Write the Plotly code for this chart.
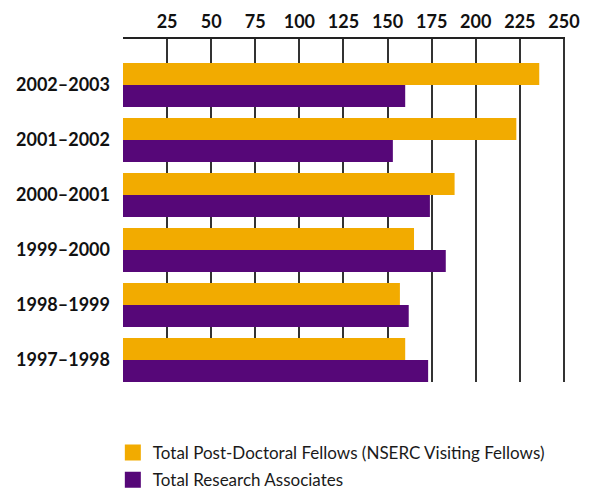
import plotly.graph_objects as go

years = ["1997–1998", "1998–1999", "1999–2000", "2000–2001", "2001–2002", "2002–2003"]
postdoc = [160, 157, 165, 188, 223, 236]
research = [173, 162, 183, 174, 153, 160]
tick_vals = [25, 50, 75, 100, 125, 150, 175, 200, 225, 250]
names = ["Total Post-Doctoral Fellows (NSERC Visiting Fellows)", "Total Research Associates"]
orange = "#F2AB00"
purple = "#560778"

fig = go.Figure()
fig.add_trace(go.Bar(y=years, x=research, orientation="h", marker=dict(color=purple, line=dict(width=0)),
                     name=names[1], showlegend=False))
fig.add_trace(go.Bar(y=years, x=postdoc, orientation="h", marker=dict(color=orange, line=dict(width=0)),
                     name=names[0], showlegend=False))
# legend entries
fig.add_trace(go.Scatter(x=[None], y=[None], mode="markers", name=names[0], legendgroup="a",
                         marker=dict(symbol="square", size=18, color=orange)))
fig.add_trace(go.Scatter(x=[None], y=[None], mode="markers", name=names[1], legendgroup="b",
                         marker=dict(symbol="square", size=18, color=purple)))

bold = dict(family="Lato, sans-serif", size=18, color="#111111", weight="bold")

fig.update_layout(
    width=593, height=498,
    margin=dict(l=123, r=28, t=39, b=116),
    paper_bgcolor="white", plot_bgcolor="white",
    barmode="group", bargap=0.2, bargroupgap=0,
    xaxis=dict(side="top", range=[0, 250.6], tickvals=tick_vals, showgrid=True,
               gridcolor="#333333", gridwidth=1.5, zeroline=False, showline=True,
               linecolor="#222222", linewidth=1.5, ticks="", automargin=False,
               tickfont=bold, ticklabelstandoff=2),
    yaxis=dict(type="category", categoryorder="array", categoryarray=years,
               range=[-0.4, 5.836], showgrid=False, zeroline=False, showline=False, ticks="",
               automargin=False, tickfont=bold, ticklabelstandoff=12),
    legend=dict(x=-0.023, xanchor="left", yref="container", y=0.0, yanchor="bottom",
                orientation="v",
                font=dict(family="Lato, sans-serif", size=17, color="#1a1a1a"),
                tracegroupgap=2, itemsizing="trace", traceorder="grouped"),
    font=dict(family="Lato, sans-serif"),
)

fig.write_html("out.html", config={"displayModeBar": False},
               post_script="document.body.style.margin='0';")
